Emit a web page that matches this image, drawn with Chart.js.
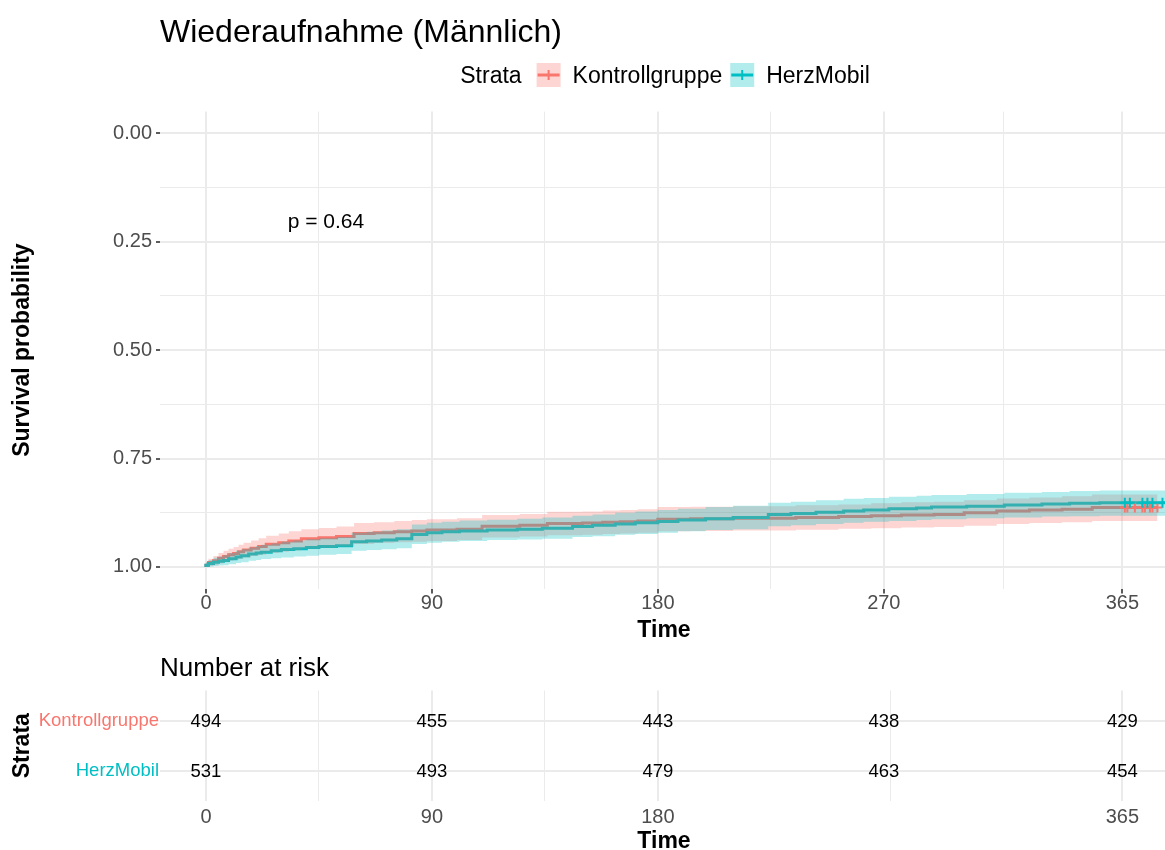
<!DOCTYPE html>
<html>
<head>
<meta charset="utf-8">
<script src="https://cdn.jsdelivr.net/npm/chart.js@4.4.1/dist/chart.umd.min.js"></script>
<style>
  html, body { margin: 0; padding: 0; background: #ffffff; width: 1165px; height: 850px; overflow: hidden; }
  #km { position: absolute; left: 0; top: 0; }
  #risk { position: absolute; left: 0; top: 645px; }
</style>
</head>
<body>
<canvas id="km" width="1165" height="645"></canvas>
<canvas id="risk" width="1165" height="205"></canvas>
<script>
// ---- Kaplan-Meier data: readmission, male patients ----
const chartTitle = 'Wiederaufnahme (Männlich)';
const legendTitle = 'Strata';
const strata = ['Kontrollgruppe', 'HerzMobil'];
const pValueText = 'p = 0.64';

const kontrollTime  = [0, 1, 3, 5, 7, 9, 11, 13, 15, 18, 21, 24, 29, 33, 38, 45, 52, 59, 67, 75, 82, 88, 100, 110, 125, 136, 150, 158, 165, 172, 180, 193, 210, 235, 252, 265, 277, 290, 302, 315, 328, 341, 353, 365, 379];
const kontrollSurv  = [1.000, 0.996, 0.990, 0.986, 0.980, 0.976, 0.972, 0.969, 0.965, 0.961, 0.957, 0.953, 0.948, 0.944, 0.940, 0.935, 0.933, 0.930, 0.923, 0.921, 0.919, 0.917, 0.915, 0.913, 0.906, 0.904, 0.900, 0.899, 0.897, 0.896, 0.894, 0.890, 0.889, 0.888, 0.886, 0.884, 0.882, 0.880, 0.879, 0.875, 0.871, 0.869, 0.867, 0.863, 0.863];
const kontrollLower = [1.000, 0.990, 0.981, 0.975, 0.968, 0.963, 0.958, 0.954, 0.949, 0.944, 0.939, 0.934, 0.928, 0.923, 0.918, 0.913, 0.910, 0.907, 0.899, 0.897, 0.894, 0.892, 0.890, 0.888, 0.880, 0.878, 0.873, 0.872, 0.870, 0.869, 0.867, 0.862, 0.861, 0.860, 0.858, 0.856, 0.853, 0.851, 0.850, 0.846, 0.842, 0.840, 0.837, 0.833, 0.833];
const kontrollUpper = [1.000, 1.000, 0.998, 0.996, 0.992, 0.989, 0.986, 0.984, 0.981, 0.978, 0.975, 0.972, 0.968, 0.965, 0.962, 0.958, 0.956, 0.953, 0.947, 0.945, 0.943, 0.942, 0.940, 0.938, 0.932, 0.930, 0.927, 0.926, 0.924, 0.923, 0.921, 0.918, 0.917, 0.916, 0.914, 0.912, 0.911, 0.909, 0.908, 0.905, 0.901, 0.899, 0.897, 0.894, 0.894];
const kontrollCensor = [366, 367, 370, 373, 374, 376, 377, 379];

const herzTime  = [0, 1, 3, 5, 7, 9, 12, 14, 17, 20, 22, 26, 30, 35, 40, 45, 52, 58, 64, 70, 76, 82, 88, 94, 101, 112, 124, 134, 146, 154, 163, 171, 180, 188, 199, 210, 224, 233, 243, 254, 262, 272, 283, 289, 303, 318, 333, 344, 356, 362, 382];
const herzSurv  = [1.000, 0.996, 0.992, 0.989, 0.987, 0.985, 0.981, 0.977, 0.974, 0.970, 0.968, 0.966, 0.963, 0.960, 0.958, 0.955, 0.953, 0.951, 0.942, 0.940, 0.938, 0.935, 0.925, 0.921, 0.919, 0.917, 0.915, 0.913, 0.911, 0.907, 0.904, 0.901, 0.898, 0.895, 0.892, 0.889, 0.886, 0.879, 0.877, 0.874, 0.871, 0.869, 0.866, 0.864, 0.862, 0.860, 0.857, 0.855, 0.853, 0.852, 0.852];
const herzLower = [1.000, 0.990, 0.984, 0.979, 0.976, 0.973, 0.968, 0.963, 0.959, 0.955, 0.952, 0.949, 0.946, 0.942, 0.939, 0.936, 0.934, 0.931, 0.921, 0.919, 0.916, 0.913, 0.902, 0.898, 0.896, 0.893, 0.891, 0.889, 0.886, 0.882, 0.879, 0.875, 0.872, 0.869, 0.866, 0.862, 0.859, 0.852, 0.850, 0.846, 0.843, 0.841, 0.838, 0.836, 0.834, 0.832, 0.829, 0.827, 0.825, 0.824, 0.824];
const herzUpper = [1.000, 1.000, 0.999, 0.998, 0.997, 0.996, 0.994, 0.991, 0.989, 0.986, 0.984, 0.982, 0.980, 0.978, 0.976, 0.974, 0.972, 0.970, 0.963, 0.961, 0.959, 0.957, 0.947, 0.944, 0.942, 0.940, 0.938, 0.937, 0.935, 0.931, 0.929, 0.926, 0.924, 0.921, 0.918, 0.915, 0.913, 0.906, 0.904, 0.901, 0.898, 0.896, 0.894, 0.892, 0.890, 0.888, 0.886, 0.884, 0.883, 0.882, 0.882];
const herzCensor = [366, 368, 373, 375, 377, 381];

// Number at risk table
const riskTimes = [0, 90, 180, 270, 365];
const kontrollRisk = [494, 455, 443, 438, 429];
const herzRisk = [531, 493, 479, 463, 454];

// Axis ticks
const xTicksMain = [0, 90, 180, 270, 365];
const xTicksRisk = [0, 90, 180, 365];
const yTicksMain = [0, 0.25, 0.5, 0.75, 1];

// ---- styling ----
const FONT = '"Liberation Sans", Arial, Helvetica, sans-serif';
Chart.defaults.font.family = FONT;
const RED = '#F8766D', TEAL = '#00BFC4';
const RED_BAND = 'rgba(248,118,109,0.3)', TEAL_BAND = 'rgba(0,191,196,0.3)';
const GRID = '#EBEBEB', TICK_TEXT = '#4D4D4D';
const P_POS = { x: 47.8, y: 0.2045 };

function pts(xs, ys) { return xs.map((x, i) => ({ x: x, y: ys[i] })); }
function survAt(xs, ys, t) { let v = ys[0]; xs.forEach((x, i) => { if (x <= t) v = ys[i]; }); return v; }
function withMinor(majors) {
  const out = [];
  majors.forEach((v, i) => { out.push(v); if (i < majors.length - 1) out.push((v + majors[i + 1]) / 2); });
  return out;
}
function gridFor(majors, tickLen, showTicks) {
  return {
    color: GRID,
    lineWidth: c => (c.tick && majors.includes(c.tick.value)) ? 2 : 1,
    drawTicks: showTicks,
    tickLength: tickLen,
    tickWidth: 1.6,
    tickColor: c => (c.tick && majors.includes(c.tick.value)) ? '#333333' : 'rgba(0,0,0,0)'
  };
}

function bandSet(label, xs, ys, fill, color, order) {
  return { label: label, data: pts(xs, ys), borderColor: 'rgba(0,0,0,0)', borderWidth: 0,
           pointRadius: 0, stepped: 'after', fill: fill, backgroundColor: color, order: order };
}
function curveSet(label, xs, ys, color, order) {
  return { label: label, data: pts(xs, ys), borderColor: color, borderWidth: 3,
           pointRadius: 0, stepped: 'after', fill: false, order: order };
}
function censorSet(label, times, xs, ys, color, order) {
  return { label: label, data: times.map(t => ({ x: t, y: survAt(xs, ys, t) })), showLine: false,
           pointStyle: 'cross', pointRadius: 5, pointBorderWidth: 2, pointBorderColor: color,
           borderColor: color, backgroundColor: color, order: order };
}

// Title, legend, axis titles and log-rank p value
const kmDecor = {
  id: 'kmDecor',
  afterDatasetsDraw(chart) {
    const { ctx, scales } = chart;
    ctx.save();
    ctx.font = '21px ' + FONT;
    ctx.fillStyle = '#000000';
    ctx.textAlign = 'center';
    ctx.textBaseline = 'middle';
    ctx.fillText(pValueText, scales.x.getPixelForValue(P_POS.x), scales.y.getPixelForValue(P_POS.y));
    ctx.restore();
  },
  afterDraw(chart) {
    const { ctx, chartArea } = chart;
    ctx.save();
    ctx.fillStyle = '#000000';
    ctx.textBaseline = 'alphabetic';

    // plot title
    ctx.font = '32px ' + FONT;
    ctx.textAlign = 'left';
    ctx.fillText(chartTitle, chartArea.left, 42);

    // legend
    ctx.font = '23px ' + FONT;
    const items = [
      { label: strata[0], color: RED, band: RED_BAND },
      { label: strata[1], color: TEAL, band: TEAL_BAND }
    ];
    const keyW = 24, gapTitle = 15, gapKey = 12, gapItem = 8, cy = 75;
    let total = ctx.measureText(legendTitle).width + gapTitle;
    items.forEach((it, i) => { total += keyW + gapKey + ctx.measureText(it.label).width + (i < items.length - 1 ? gapItem : 0); });
    let x = 665 - total / 2;
    ctx.fillText(legendTitle, x, cy + 8);
    x += ctx.measureText(legendTitle).width + gapTitle;
    items.forEach(it => {
      ctx.fillStyle = it.band;
      ctx.fillRect(x, cy - keyW / 2, keyW, keyW);
      ctx.strokeStyle = it.color;
      ctx.lineWidth = 3;
      ctx.beginPath(); ctx.moveTo(x + 1, cy); ctx.lineTo(x + keyW - 1, cy); ctx.stroke();
      ctx.lineWidth = 2;
      ctx.beginPath(); ctx.moveTo(x + keyW / 2, cy - 5); ctx.lineTo(x + keyW / 2, cy + 5); ctx.stroke();
      x += keyW + gapKey;
      ctx.fillStyle = '#000000';
      ctx.fillText(it.label, x, cy + 8);
      x += ctx.measureText(it.label).width + gapItem;
    });

    // axis titles
    ctx.font = 'bold 23px ' + FONT;
    ctx.textAlign = 'center';
    ctx.fillText('Time', 664, 637);
    ctx.translate(29, (chartArea.top + chartArea.bottom) / 2);
    ctx.rotate(-Math.PI / 2);
    ctx.fillText('Survival probability', 0, 0);
    ctx.restore();
  }
};

new Chart(document.getElementById('km'), {
  type: 'line',
  data: {
    datasets: [
      bandSet('Kontrollgruppe lower', kontrollTime, kontrollLower, false, RED_BAND, 3),
      bandSet('Kontrollgruppe upper', kontrollTime, kontrollUpper, '-1', RED_BAND, 3),
      bandSet('HerzMobil lower', herzTime, herzLower, false, TEAL_BAND, 2),
      bandSet('HerzMobil upper', herzTime, herzUpper, '-1', TEAL_BAND, 2),
      curveSet(strata[0], kontrollTime, kontrollSurv, RED, 5),
      curveSet(strata[1], herzTime, herzSurv, TEAL, 4),
      censorSet('Kontrollgruppe censored', kontrollCensor, kontrollTime, kontrollSurv, RED, 1),
      censorSet('HerzMobil censored', herzCensor, herzTime, herzSurv, TEAL, 0)
    ]
  },
  options: {
    responsive: false,
    animation: false,
    devicePixelRatio: 1,
    layout: { autoPadding: false, padding: { top: 111.6, left: 0, right: 0, bottom: 0 } },
    plugins: { legend: { display: false }, tooltip: { enabled: false }, title: { display: false } },
    scales: {
      x: {
        type: 'linear', min: -18.3, max: 382,
        afterBuildTicks: s => { s.ticks = withMinor(xTicksMain).map(v => ({ value: v })); },
        afterFit: s => { s.height = 56.4; },
        ticks: { autoSkip: false, maxRotation: 0, padding: -2, color: TICK_TEXT, font: { size: 20 },
                 callback: v => xTicksMain.includes(v) ? String(v) : '' },
        grid: gridFor(xTicksMain, 5, true),
        border: { display: false }
      },
      y: {
        type: 'linear', reverse: true, min: -0.05, max: 1.05,
        afterBuildTicks: s => { s.ticks = withMinor(yTicksMain).map(v => ({ value: v })); },
        afterFit: s => { s.width = 160; },
        ticks: { autoSkip: false, padding: 4, color: TICK_TEXT, font: { size: 20 },
                 callback: v => yTicksMain.includes(v) ? v.toFixed(2) : '' },
        grid: gridFor(yTicksMain, 4, true),
        border: { display: false }
      }
    }
  },
  plugins: [kmDecor]
});

// ---- risk table ----
const riskCounts = [kontrollRisk, herzRisk];
const riskDecor = {
  id: 'riskDecor',
  afterDatasetsDraw(chart) {
    const ctx = chart.ctx;
    ctx.save();
    ctx.font = '18.5px ' + FONT;
    ctx.fillStyle = '#000000';
    ctx.textAlign = 'center';
    ctx.textBaseline = 'alphabetic';
    chart.data.datasets.forEach((ds, di) => {
      chart.getDatasetMeta(di).data.forEach((el, i) => {
        ctx.fillText(String(riskCounts[di][i]), el.x, el.y + 6.6);
      });
    });
    ctx.restore();
  },
  afterDraw(chart) {
    const { ctx, chartArea } = chart;
    ctx.save();
    ctx.fillStyle = '#000000';
    ctx.textBaseline = 'alphabetic';
    ctx.font = '26px ' + FONT;
    ctx.textAlign = 'left';
    ctx.fillText('Number at risk', chartArea.left, 31);
    ctx.font = 'bold 23px ' + FONT;
    ctx.textAlign = 'center';
    ctx.fillText('Time', 664, 203);
    ctx.translate(29, (chartArea.top + chartArea.bottom) / 2);
    ctx.rotate(-Math.PI / 2);
    ctx.fillText(legendTitle, 0, 0);
    ctx.restore();
  }
};

new Chart(document.getElementById('risk'), {
  type: 'line',
  data: {
    datasets: riskCounts.map((counts, di) => ({
      label: strata[di],
      data: riskTimes.map(t => ({ x: t, y: strata.length - di })),
      showLine: false, pointRadius: 0
    }))
  },
  options: {
    responsive: false,
    animation: false,
    devicePixelRatio: 1,
    layout: { autoPadding: false, padding: { top: 45.5, left: 0, right: 0, bottom: 0 } },
    plugins: { legend: { display: false }, tooltip: { enabled: false }, title: { display: false } },
    scales: {
      x: {
        type: 'linear', min: -18.3, max: 382,
        afterBuildTicks: s => { s.ticks = withMinor(xTicksRisk).map(v => ({ value: v })); },
        afterFit: s => { s.height = 49; },
        ticks: { autoSkip: false, maxRotation: 0, padding: 4.5, color: TICK_TEXT, font: { size: 20 },
                 callback: v => xTicksRisk.includes(v) ? String(v) : '' },
        grid: gridFor(xTicksRisk, 0, false),
        border: { display: false }
      },
      y: {
        type: 'linear', min: 0.4, max: 2.6,
        afterBuildTicks: s => { s.ticks = [1, 2].map(v => ({ value: v })); },
        afterFit: s => { s.width = 160; },
        ticks: { autoSkip: false, padding: 1, font: { size: 18.5 },
                 color: c => (c.tick && c.tick.value === 2) ? RED : TEAL,
                 callback: v => strata[strata.length - v] || '' },
        grid: { color: GRID, lineWidth: 2, drawTicks: false },
        border: { display: false }
      }
    }
  },
  plugins: [riskDecor]
});
</script>
</body>
</html>
